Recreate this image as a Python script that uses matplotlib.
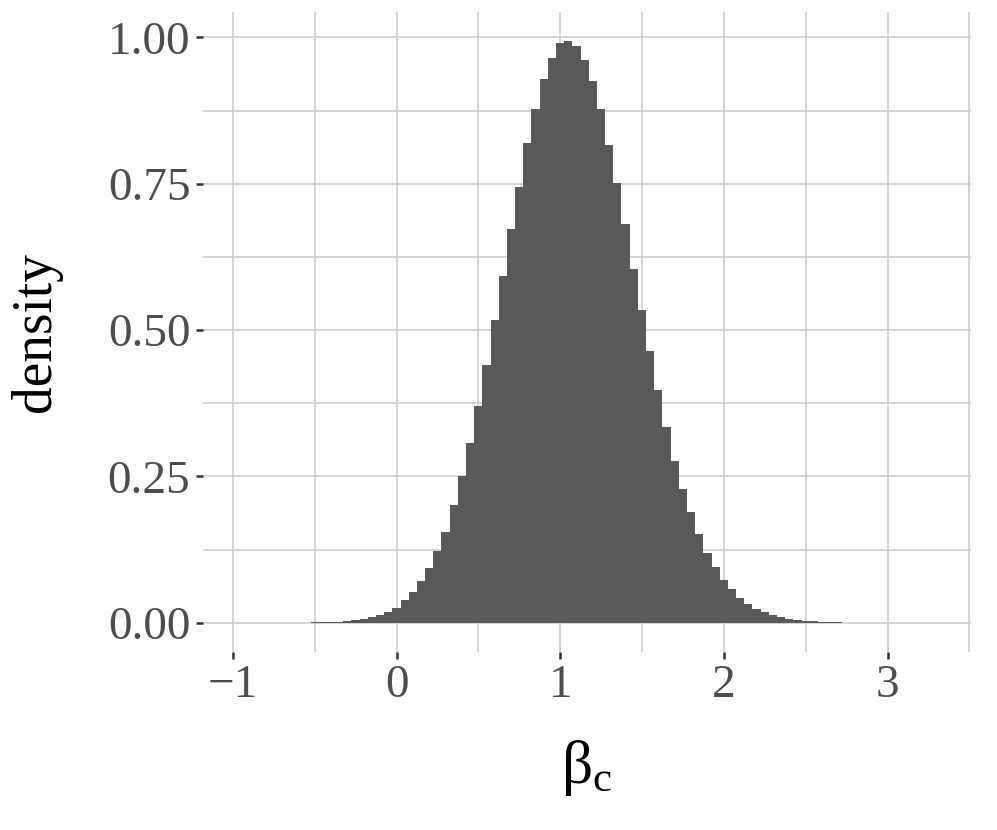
import matplotlib
matplotlib.use("Agg")
import matplotlib.pyplot as plt
import numpy as np

plt.rcParams['font.family'] = ['Liberation Serif', 'DejaVu Serif']
plt.rcParams['mathtext.fontset'] = 'custom'
plt.rcParams['mathtext.rm'] = 'Liberation Serif'
plt.rcParams['mathtext.it'] = 'Liberation Serif:italic'

# histogram bins (width 0.05), first bin left edge
bin_width = 0.05
first_edge = -0.726
density = [
    0.0001, 0.0002, 0.0003, 0.0005, 0.0007, 0.0010,             # -0.70 .. -0.45
    0.0015, 0.0023, 0.0034, 0.0046, 0.0068, 0.0097, 0.0137, 0.019,  # -0.40 .. -0.05
    0.026, 0.039, 0.052, 0.071, 0.093, 0.123, 0.156, 0.201, 0.250, 0.308,  # 0.00 .. 0.45
    0.371, 0.441, 0.517, 0.593, 0.673, 0.744, 0.820, 0.878, 0.929, 0.965,  # 0.50 .. 0.95
    0.990, 0.994, 0.985, 0.962, 0.926, 0.877, 0.817, 0.751, 0.681, 0.604,  # 1.00 .. 1.45
    0.535, 0.464, 0.397, 0.335, 0.277, 0.228, 0.189, 0.152, 0.120, 0.096,  # 1.50 .. 1.95
    0.074, 0.057, 0.043, 0.033, 0.0245, 0.019, 0.013, 0.0097, 0.0068, 0.0046,  # 2.00 .. 2.45
    0.0034, 0.0025, 0.0015, 0.0011, 0.0008, 0.0005, 0.0004, 0.0003, 0.0002, 0.0001,  # 2.50 .. 2.95
    0.0001, 0.00005, 0.00005, 0.00005, 0.00005, 0.00005, 0.00005,  # 3.00 .. 3.30
]
x_ticks = [-1, 0, 1, 2, 3]
x_minor = [-0.5, 0.5, 1.5, 2.5, 3.5]
y_ticks = [0.00, 0.25, 0.50, 0.75, 1.00]
y_minor = [0.125, 0.375, 0.625, 0.875]

edges = first_edge + bin_width * np.arange(len(density))

fig = plt.figure(figsize=(9.97, 8.30), dpi=100)
ax = fig.add_axes([0.2036, 0.2145, 0.7704, 0.7715])

grid_c = '#c9c9c9'
for v in x_ticks + x_minor:
    ax.axvline(v, color=grid_c, lw=1.1, zorder=0)
for v in y_ticks + y_minor:
    ax.axhline(v, color=grid_c, lw=1.1, zorder=0)

ax.bar(edges, density, width=bin_width, align='edge', color='#595959',
       edgecolor='none', linewidth=0, zorder=2)

ax.set_xlim(-1.183, 3.51)
ax.set_ylim(-0.0497, 1.044)
ax.set_xticks(x_ticks)
ax.set_xticklabels(['\u22121', '0', '1', '2', '3'])
ax.set_yticks(y_ticks)
ax.set_yticklabels([f"{v:.2f}" for v in y_ticks])
for s in ax.spines.values():
    s.set_visible(False)
ax.tick_params(axis='both', length=5, width=1.8, color='#333333',
               labelcolor='#4d4d4d', labelsize=34, pad=4)

ax.set_ylabel('density', fontsize=40, color='black', labelpad=33)
ax.set_xlabel(r'$\mathrm{\beta_c}$', fontsize=44, color='black', labelpad=22)

fig.savefig('out.png', dpi=100)
